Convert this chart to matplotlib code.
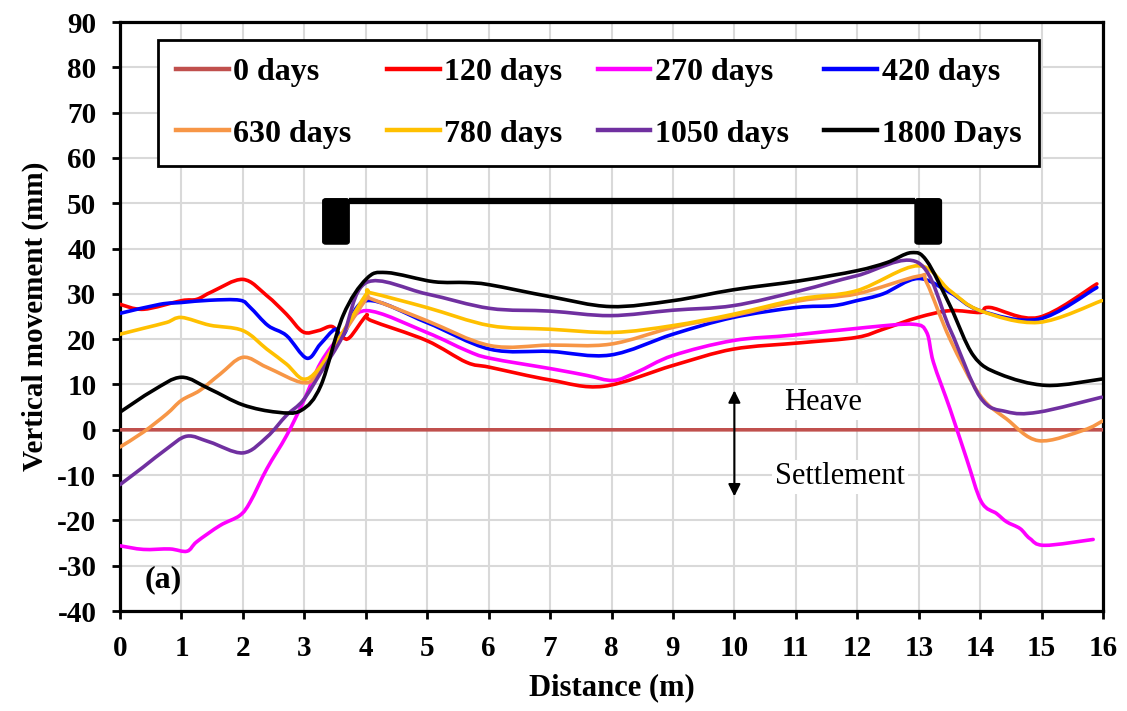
import numpy as np
import matplotlib as mpl
import matplotlib.pyplot as plt
from matplotlib.patches import FancyBboxPatch, PathPatch
from matplotlib.path import Path
from matplotlib.lines import Line2D

mpl.rcParams.update({
    "font.family": ["Liberation Serif", "DejaVu Serif"],
    "font.weight": "bold",
    "axes.linewidth": 2.3,
    "axes.unicode_minus": False,
})

# -----------------------
# data
# -----------------------
x_0 = [0, 16]
y_0 = [0, 0]

x_120 = [0, 0.38, 1.0, 1.25, 1.5, 2.0, 2.39, 2.71, 2.98, 3.23, 3.45, 3.62, 3.74, 4.01, 4.09,
         4.99, 5.64, 6.02, 7.0, 7.87, 9.0, 9.98, 11.07, 11.99, 12.42, 12.99, 13.51, 14.0,
         14.16, 14.95, 15.9]
y_120 = [27.7, 26.6, 28.5, 28.8, 30.5, 33.2, 29.6, 25.5, 21.6, 21.9, 22.8, 20.5, 20.4, 25.2, 24.1,
         19.7, 14.9, 13.8, 11.0, 9.6, 14.2, 17.8, 19.2, 20.4, 22.2, 24.8, 26.3, 25.9,
         27.0, 24.8, 32.2]

x_270 = [0, 0.38, 0.81, 1.09, 1.25, 1.63, 1.95, 2.12, 2.39, 2.71, 2.98, 3.27, 3.63, 4.01,
         4.99, 5.64, 6.02, 7.05, 7.60, 8.03, 8.41, 9.0, 9.98, 10.96, 12.15, 12.91, 13.13,
         13.24, 13.51, 13.78, 14.02, 14.27, 14.43, 14.65, 14.81, 15.05, 15.84]
y_270 = [-25.6, -26.4, -26.3, -26.8, -24.7, -21.1, -18.9, -15.9, -8.6, -1.3, 6.1, 14.9, 21.5, 26.3,
         21.5, 17.5, 15.8, 13.4, 12.0, 10.9, 12.7, 16.4, 19.7, 20.9, 22.6, 23.3, 21.5,
         14.9, 4.6, -6.4, -15.9, -18.5, -20.3, -21.8, -24.0, -25.5, -24.2]

x_420 = [0, 0.65, 1.0, 1.46, 1.95, 2.12, 2.41, 2.71, 3.04, 3.26, 3.50, 3.63, 4.01, 4.99, 6.02,
         7.0, 7.98, 9.0, 9.98, 11.01, 11.61, 11.99, 12.42, 12.99, 13.51, 14.0, 14.95, 15.9]
y_420 = [25.7, 27.7, 28.1, 28.6, 28.6, 27.0, 23.0, 20.8, 15.8, 18.9, 22.2, 20.8, 28.5, 23.7, 17.8,
         17.3, 16.5, 21.1, 24.8, 27.0, 27.4, 28.5, 30.0, 33.4, 30.3, 26.3, 24.4, 31.4]

x_630 = [0, 0.38, 0.76, 1.0, 1.30, 1.63, 2.0, 2.39, 2.98, 3.23, 3.6, 4.01, 4.09, 4.99, 6.02,
         7.0, 7.98, 9.0, 9.98, 11.07, 11.99, 12.99, 13.13, 13.51, 14.0, 14.43, 14.95, 15.68, 16.0]
y_630 = [-3.8, -0.5, 3.5, 6.5, 8.7, 12.3, 16.0, 13.8, 10.4, 12.7, 20.5, 28.9, 28.9, 24.1, 18.6,
         18.7, 18.9, 22.6, 25.2, 28.5, 30.0, 33.9, 32.5, 20.0, 7.6, 2.4, -2.4, -0.1, 2.0]

x_780 = [0, 0.38, 0.76, 1.0, 1.46, 2.0, 2.39, 2.71, 2.98, 3.23, 3.6, 4.01, 4.09, 4.99, 6.02,
         7.0, 8.03, 9.0, 9.98, 11.07, 11.99, 12.99, 13.51, 14.0, 14.95, 15.98]
y_780 = [21.1, 22.4, 23.7, 24.8, 23.1, 21.9, 17.8, 14.5, 11.2, 13.4, 21.0, 30.0, 30.2, 27.0, 23.0,
         22.2, 21.5, 23.0, 25.5, 28.9, 30.7, 36.2, 30.7, 26.3, 23.7, 28.5]

x_1050 = [0, 0.38, 0.76, 1.09, 1.46, 2.0, 2.39, 2.71, 2.98, 3.27, 3.63, 4.01, 4.99, 6.02, 7.0,
          7.98, 9.0, 9.98, 11.07, 11.99, 12.99, 13.51, 14.0, 14.43, 14.95, 15.98]
y_1050 = [-12.1, -8.2, -4.2, -1.4, -2.7, -5.1, -1.6, 3.2, 6.5, 12.7, 20.8, 32.5, 30.0, 26.8, 26.2,
          25.2, 26.4, 27.4, 30.7, 34.0, 36.9, 22.2, 7.2, 4.0, 3.9, 7.2]

x_1800 = [0, 0.54, 1.0, 1.46, 2.0, 2.55, 2.95, 3.27, 3.63, 4.01, 4.34, 5.10, 5.64, 6.02, 7.0,
          7.98, 9.0, 9.98, 11.07, 11.99, 12.48, 12.88, 13.13, 13.51, 13.89, 14.32, 15.08, 15.98]
y_1800 = [3.9, 8.7, 11.6, 9.0, 5.5, 3.9, 4.3, 9.8, 25.2, 33.3, 34.7, 32.7, 32.5, 32.0, 29.4,
          27.2, 28.5, 30.9, 32.9, 35.1, 36.9, 39.1, 37.3, 27.4, 16.4, 12.3, 9.8, 11.2]

labels = ["0 days", "120 days", "270 days", "420 days",
          "630 days", "780 days", "1050 days", "1800 Days"]
colors = ["#c0504d", "#ff0000", "#ff00ff", "#0000ff",
          "#f79646", "#ffc000", "#7030a0", "#000000"]
series = [(x_0, y_0), (x_120, y_120), (x_270, y_270), (x_420, y_420),
          (x_630, y_630), (x_780, y_780), (x_1050, y_1050), (x_1800, y_1800)]

# foundation beam sketch (data units)
beam_left = (3.30, 3.73)
beam_right = (12.94, 13.37)
beam_bottom, beam_top = 41.0, 51.0


def smooth_path(xs, ys):
    # Excel-style smoothed line: bezier segments through the points
    pts = np.column_stack([xs, ys]).astype(float)
    n = len(pts)
    verts, codes = [pts[0]], [Path.MOVETO]
    for i in range(n - 1):
        p0 = pts[i - 1] if i > 0 else pts[i]
        p1, p2 = pts[i], pts[i + 1]
        p3 = pts[i + 2] if i + 2 < n else p2
        verts += [p1 + (p2 - p0) / 6, p2 - (p3 - p1) / 6, p2]
        codes += [Path.CURVE4] * 3
    return Path(verts, codes)


# -----------------------
# figure
# -----------------------
fig = plt.figure(figsize=(11.27, 7.11), dpi=100)
ax = fig.add_axes([0.1065, 0.1406, 0.8722, 0.8284])

handles = []
for (xs, ys), lab, col in zip(series, labels, colors):
    ax.add_patch(PathPatch(smooth_path(xs, ys), fc="none", ec=col, lw=2.6,
                           joinstyle="round", capstyle="round", zorder=3))
    handles.append(Line2D([], [], color=col, lw=3.2, label=lab))

# beam with end blocks
for x0, x1 in (beam_left, beam_right):
    ax.add_patch(FancyBboxPatch((x0, beam_bottom), x1 - x0, beam_top - beam_bottom,
                                boxstyle="round,pad=0,rounding_size=0.05",
                                mutation_aspect=10, fc="black", ec="black", zorder=4))
ax.plot([beam_left[1], beam_right[0]], [beam_top - 0.6, beam_top - 0.6],
        color="black", lw=4.5, solid_capstyle="butt", zorder=4)

# heave / settlement note
ax.annotate("", xy=(10, 9.3), xytext=(10, -15.3),
            arrowprops=dict(arrowstyle="<|-|>", color="black", lw=1.5,
                            mutation_scale=18), zorder=4)
box = dict(fc="white", ec="none", pad=2)
ax.text(11.45, 6.0, "Heave", fontsize=22, fontweight="normal",
        ha="center", va="center", bbox=box, zorder=2.5)
ax.text(11.72, -10.4, "Settlement", fontsize=22, fontweight="normal",
        ha="center", va="center", bbox=box, zorder=2.5)
ax.text(0.4, -33.0, "(a)", fontsize=23, fontweight="bold", ha="left", va="center")

ax.set_xlim(0, 16)
ax.set_ylim(-40, 90)
ax.set_xticks(np.arange(0, 17, 1))
ax.set_yticks(np.arange(-40, 91, 10))
ax.grid(True, color="#d9d9d9", lw=1.5, zorder=0)
ax.set_axisbelow(True)
ax.tick_params(axis="both", direction="out", length=6, width=2,
               labelsize=21, pad=11)
for lab in ax.get_xticklabels() + ax.get_yticklabels():
    lab.set_fontweight("bold")

ax.set_xlabel("Distance (m)", fontsize=22, fontweight="bold", labelpad=8)
ax.set_ylabel("Vertical movement (mm)", fontsize=21, fontweight="bold", labelpad=6)

# row-wise legend order (matplotlib fills columns first)
order = [0, 4, 1, 5, 2, 6, 3, 7]
leg = ax.legend([handles[i] for i in order], [labels[i] for i in order],
                loc="upper left", bbox_to_anchor=(0.039, 0.969), borderaxespad=0,
                ncol=4, fontsize=23, handlelength=1.65, handletextpad=0.15,
                columnspacing=1.1, labelspacing=1.0, borderpad=0.55,
                frameon=True, fancybox=False, framealpha=1)
leg.get_frame().set_edgecolor("black")
leg.get_frame().set_linewidth(2)
for t in leg.get_texts():
    t.set_fontweight("bold")

plt.savefig("out.png", dpi=100)
